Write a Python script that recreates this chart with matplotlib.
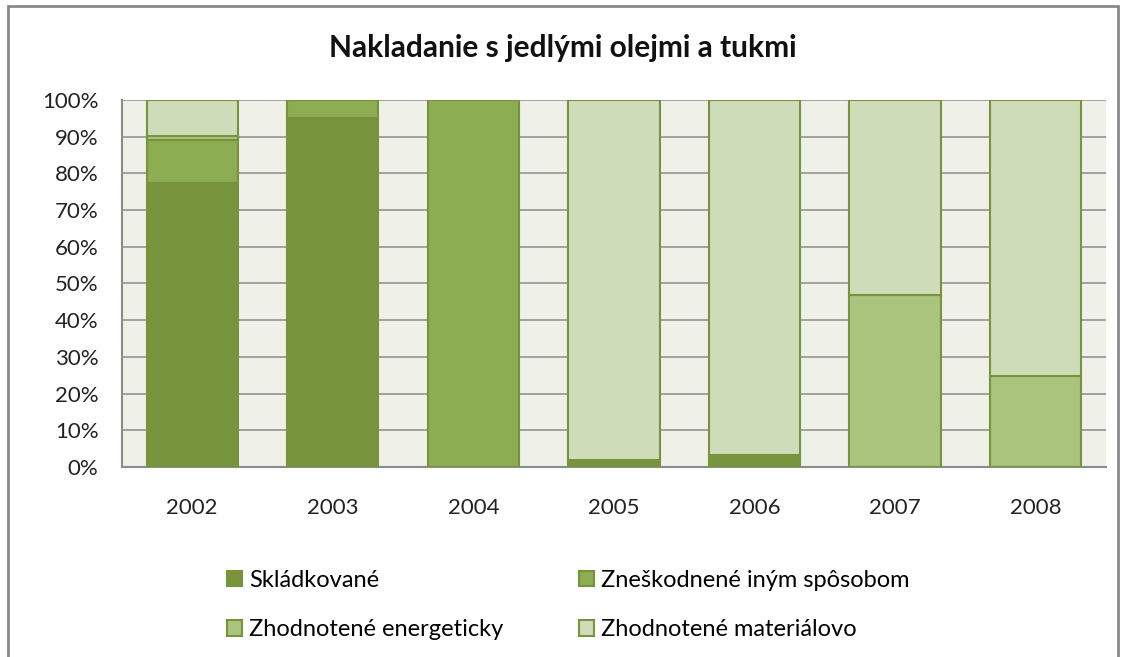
import numpy as np
import matplotlib.pyplot as plt
from matplotlib.patches import Rectangle

years = ['2002', '2003', '2004', '2005', '2006', '2007', '2008']
skladkovane = [77.5, 95.0, 0.0, 1.8, 3.3, 0.0, 0.0]
zneskodnene = [11.6, 5.0, 100.0, 0.0, 0.0, 0.0, 0.0]
energeticky = [1.1, 0.0, 0.0, 0.0, 0.0, 47.0, 24.8]
materialovo = [9.8, 0.0, 0.0, 98.2, 96.7, 53.0, 75.2]

series = [skladkovane, zneskodnene, energeticky, materialovo]
names = ['Skládkované', 'Zneškodnené iným spôsobom',
         'Zhodnotené energeticky', 'Zhodnotené materiálovo']
colors = ['#77933C', '#8DAD52', '#AAC47E', '#CFDCB9']
edge = '#77933C'

plt.rcParams['font.family'] = ['Lato', 'DejaVu Sans']

fig = plt.figure(figsize=(11.26, 6.57), dpi=100)
ax = fig.add_axes([0.1083, 0.2892, 0.8739, 0.5586])
ax.set_facecolor('#EFF1E9')

x = np.arange(len(years))
bottom = np.zeros(len(years))
handles = []
for vals, name, col in zip(series, names, colors):
    v = np.array(vals)
    b = ax.bar(x, v, 0.65, bottom=bottom, color=col, edgecolor=edge,
               linewidth=1.5, label=name, zorder=3)
    handles.append(b)
    bottom += v

ax.set_xlim(-0.5, len(years) - 0.5)
ax.set_ylim(0, 100)
ax.set_yticks(np.arange(0, 101, 10))
ax.set_yticklabels([f'{t}%' for t in range(0, 101, 10)])
ax.set_xticks(x)
ax.set_xticklabels(years)
ax.yaxis.grid(True, color='#8C8C8C', linewidth=1.1, zorder=0)
ax.set_axisbelow(True)
ax.tick_params(axis='both', length=0, labelsize=16, colors='#222222')
ax.tick_params(axis='y', pad=17)
ax.tick_params(axis='x', pad=22)
for s in ['top', 'right']:
    ax.spines[s].set_visible(False)
for s in ['left', 'bottom']:
    ax.spines[s].set_color('#8C8C8C')
    ax.spines[s].set_linewidth(1.5)

fig.text(0.5, 1 - 57 / 657, 'Nakladanie s jedlými olejmi a tukmi',
         fontsize=21.5, fontweight='bold', ha='center', va='baseline',
         color='#111111')

# legend filled row-wise like the original
order = [0, 2, 1, 3]
fig.legend([handles[i] for i in order], [names[i] for i in order],
           loc='upper left', bbox_to_anchor=(0.2016, 0.1325), ncol=2,
           frameon=False, fontsize=17, handlelength=0.64, handleheight=0.64,
           handletextpad=0.3, columnspacing=3.2, labelspacing=1.19,
           borderpad=0, borderaxespad=0)

# outer chart frame
fig.patches.append(Rectangle((8 / 1126, -0.05), 1110 / 1126, 1.05 - 6 / 657,
                             transform=fig.transFigure, fill=False,
                             edgecolor='#8A8A8A', linewidth=2))

fig.savefig('out.png', dpi=100)
